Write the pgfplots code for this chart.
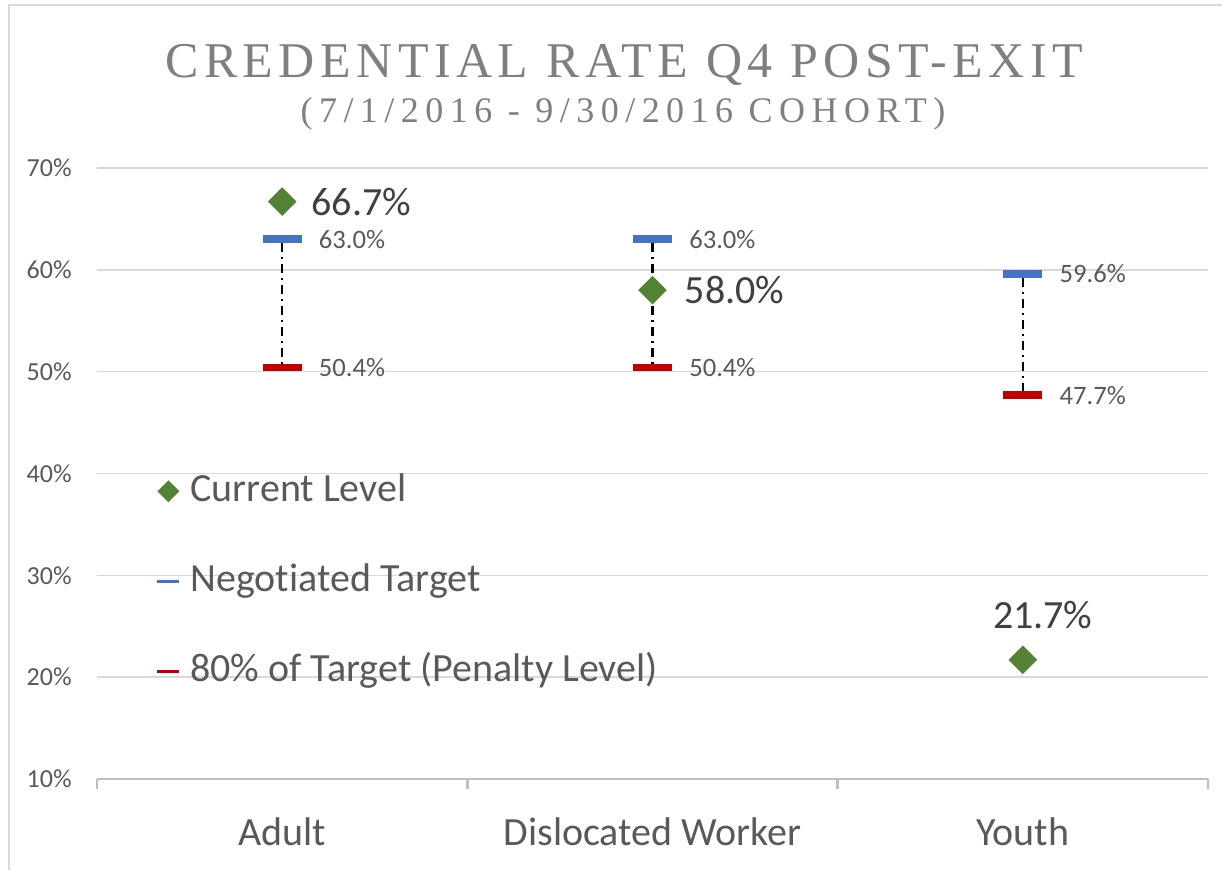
\documentclass[border=0pt]{standalone}
\usepackage{pgfplots}
\pgfplotsset{compat=1.18}
\usepackage{fontspec}
\setmainfont{Carlito}[Ligatures={NoCommon,NoRequired,NoContextual}]
\newfontfamily\titlefont[LetterSpace=11]{Liberation Serif}
\newfontfamily\subtitlefont[LetterSpace=18]{Liberation Serif}
\definecolor{cgreen}{HTML}{548235}
\definecolor{cblue}{HTML}{4472C4}
\definecolor{cred}{HTML}{C00000}
\definecolor{ctext}{HTML}{595959}
\definecolor{cdark}{HTML}{404040}
\definecolor{cgrid}{HTML}{D9D9D9}
\definecolor{caxis}{HTML}{BFBFBF}
\definecolor{ctitle}{HTML}{7F7F7F}
\begin{document}
\begin{tikzpicture}
\useasboundingbox (0,0) rectangle (611pt,435pt);
\draw[cgrid, line width=1pt] (4.5pt,0) -- (4.5pt,432.5pt) -- (611pt,432.5pt);
\node[anchor=base, inner sep=0, text=ctitle, font=\titlefont\fontsize{25}{29}\selectfont] at (312pt,396pt) {CREDENTIAL RATE Q4 POST-EXIT};
\node[anchor=base, inner sep=0, text=ctitle, font=\subtitlefont\fontsize{18}{21}\selectfont] at (311.5pt,373.5pt) {(7/1/2016 - 9/30/2016 COHORT)};
\begin{axis}[
  at={(48.5pt,45.5pt)}, anchor=south west, scale only axis,
  width=555.5pt, height=305.5pt,
  xmin=0, xmax=3, ymin=10, ymax=70,
  axis lines*=left,
  x axis line style={-, caxis, line width=1.3pt},
  y axis line style={draw=none},
  xtick={0.5,1.5,2.5},
  xticklabels={Adult, Dislocated Worker, Youth},
  minor xtick={0,1,2,3},
  major tick length=0pt, minor tick length=5pt, tick align=outside,
  minor x tick style={caxis, line width=1.3pt},
  ytick={10,20,30,40,50,60,70},
  yticklabels={10\%,20\%,30\%,40\%,50\%,60\%,70\%},
  ytick style={draw=none},
  ymajorgrids, grid style={cgrid, line width=0.8pt},
  yticklabel style={font=\fontsize{13}{15}\selectfont, text=ctext, inner sep=0, xshift=-12.5pt},
  xticklabel style={font=\fontsize{20}{23}\selectfont, text=ctext, inner sep=0, yshift=-19pt},
  clip=false,
  legend cell align=left,
  legend style={at={(rel axis cs:0.047,0.514)}, anchor=north west, draw=none, fill=none,
    font=\fontsize{20}{24}\selectfont, text=ctext, row sep=23pt,
    nodes={inner sep=2pt, text height=14pt, text depth=4pt},
    /tikz/every odd column/.append style={column sep=3pt}},
]
\addplot[only marks, mark=square*, mark size=4.85pt, mark options={rotate=45, draw=cgreen, fill=cgreen},
  legend image code/.code={\fill[cgreen] (0.2cm,0pt) +(0,5.2pt) -- +(5.2pt,0) -- +(0,-5.2pt) -- +(-5.2pt,0) -- cycle;}]
  coordinates {(0.5,66.7) (1.5,58.0) (2.5,21.7)};
\addlegendentry{Current Level}
\addplot[black, line width=1.1pt, dash pattern=on 4.5pt off 2.5pt on 1pt off 2.5pt, forget plot] coordinates {(0.5,62.6) (0.5,50.4)};
\addplot[black, line width=1.1pt, dash pattern=on 4.5pt off 2.5pt on 1pt off 2.5pt, forget plot] coordinates {(1.5,62.6) (1.5,50.4)};
\addplot[black, line width=1.1pt, dash pattern=on 4.5pt off 2.5pt on 1pt off 2.5pt, forget plot] coordinates {(2.5,59.2) (2.5,47.7)};
\addplot[only marks, mark=-, mark size=9.8pt, mark options={draw=cblue, line width=3.8pt},
  nodes near coords, point meta=explicit symbolic,
  nodes near coords style={anchor=west, inner sep=0, xshift=16.5pt, font=\fontsize{13.3}{15}\selectfont, text=ctext},
  legend image code/.code={\draw[cblue, line width=1.4pt] (0cm,0cm) -- (11pt,0cm);}]
  coordinates {(0.5,63.0) [63.0\%] (1.5,63.0) [63.0\%] (2.5,59.6) [59.6\%]};
\addlegendentry{Negotiated Target}
\addplot[only marks, mark=-, mark size=9.8pt, mark options={draw=cred, line width=3.8pt},
  nodes near coords, point meta=explicit symbolic,
  nodes near coords style={anchor=west, inner sep=0, xshift=16.5pt, font=\fontsize{13.3}{15}\selectfont, text=ctext},
  legend image code/.code={\draw[cred, line width=1.4pt] (0cm,0cm) -- (11pt,0cm);}]
  coordinates {(0.5,50.4) [50.4\%] (1.5,50.4) [50.4\%] (2.5,47.7) [47.7\%]};
\addlegendentry{80\% of Target (Penalty Level)}
\node[anchor=west, inner sep=0, xshift=14.5pt, font=\fontsize{20}{24}\selectfont, text=cdark] at (axis cs:0.5,66.7) {66.7\%};
\node[anchor=west, inner sep=0, xshift=16pt, font=\fontsize{20}{24}\selectfont, text=cdark] at (axis cs:1.5,58.0) {58.0\%};
\node[anchor=center, inner sep=0, xshift=10pt, yshift=22.5pt, font=\fontsize{20}{24}\selectfont, text=cdark] at (axis cs:2.5,21.7) {21.7\%};
\end{axis}
\end{tikzpicture}
\end{document}
